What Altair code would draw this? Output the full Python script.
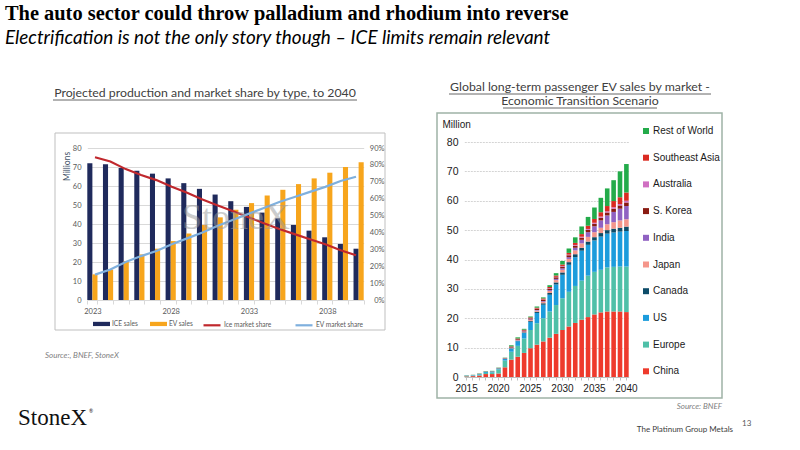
import altair as alt
import pandas as pd

# ---------------- data: left chart ----------------
left_years = list(range(2023, 2041))
ice_sales = [72, 71.5, 69.5, 68, 66.5, 64, 61.5, 58.5, 55.5, 52, 49, 46, 43, 39.5, 36.5, 33, 29.5, 27]
ev_sales = [13.5, 16, 20.5, 24, 27, 31, 35, 39.5, 43.5, 47.5, 51, 55, 58, 61, 64, 67, 70, 72.5]
ice_share = [84.5, 82, 77.5, 74, 71, 67, 63.5, 59.5, 56, 52.5, 49, 45.5, 42, 39, 36, 33, 29.5, 26.5]
ev_share = [15, 18, 22.5, 26, 29, 33, 36.5, 40, 44, 47.5, 51, 54.5, 58, 61, 64, 67, 70.5, 73]
bar_series = ["ICE sales", "EV sales"]
line_series = ["Ice market share", "EV market share"]

# ---------------- data: right chart ----------------
right_years = list(range(2015, 2041))
china = [0.2, 0.3, 0.5, 1.0, 1.0, 1.2, 3.3, 5.9, 6.9, 8.2, 9.8, 11, 12.1, 13.4, 14.7, 16, 17.2, 18.4, 19.5, 20.4, 21.3, 22, 22.3, 22.3, 22.3, 22.1]
europe = [0.2, 0.2, 0.3, 0.4, 0.55, 1.4, 2.3, 2.7, 3.7, 4.9, 6.2, 7.3, 7.9, 8.9, 9.8, 10.8, 11.8, 12.6, 13.3, 14.1, 14.5, 14.5, 15, 15.2, 15.3, 15.5]
us = [0.1, 0.15, 0.2, 0.35, 0.3, 0.3, 0.6, 1.1, 1.6, 1.9, 2.8, 3.5, 4.6, 5.7, 7.0, 8, 9.2, 9.8, 10.2, 10.5, 10.7, 11.3, 11.5, 11.7, 11.9, 12.1]
canada = [0, 0, 0.02, 0.05, 0.05, 0.05, 0.05, 0.1, 0.15, 0.2, 0.3, 0.4, 0.5, 0.6, 0.7, 0.8, 0.9, 1.0, 1.0, 1.1, 1.1, 1.2, 1.2, 1.3, 1.3, 1.5]
japan = [0.02, 0.05, 0.05, 0.05, 0.05, 0.05, 0.05, 0.1, 0.15, 0.2, 0.3, 0.4, 0.5, 0.7, 0.8, 0.9, 1.1, 1.3, 1.5, 1.6, 1.7, 1.8, 2.0, 2.2, 2.5, 2.5]
india = [0, 0, 0, 0, 0, 0, 0.02, 0.05, 0.1, 0.15, 0.2, 0.2, 0.25, 0.3, 0.4, 0.5, 0.6, 0.9, 1.2, 1.6, 2.0, 2.5, 3.0, 3.5, 4.0, 4.5]
skorea = [0.02, 0.02, 0.05, 0.05, 0.05, 0.05, 0.1, 0.2, 0.25, 0.3, 0.35, 0.4, 0.45, 0.5, 0.55, 0.6, 0.65, 0.7, 0.75, 0.8, 0.85, 0.9, 1.0, 1.1, 1.1, 1.2]
australia = [0, 0, 0, 0, 0, 0, 0.02, 0.05, 0.05, 0.05, 0.1, 0.1, 0.1, 0.15, 0.15, 0.2, 0.2, 0.25, 0.3, 0.3, 0.35, 0.4, 0.4, 0.5, 0.5, 0.6]
se_asia = [0, 0, 0, 0, 0, 0.05, 0.05, 0.2, 0.2, 0.2, 0.25, 0.3, 0.35, 0.4, 0.45, 0.5, 0.6, 0.7, 0.9, 1.1, 1.3, 1.5, 1.8, 2.1, 2.3, 2.8]
rest_world = [0.05, 0.05, 0.1, 0.1, 0.1, 0.1, 0.1, 0.4, 0.4, 0.3, 0.3, 0.4, 0.35, 0.6, 0.8, 1.2, 1.5, 1.9, 2.6, 3.0, 3.9, 4.9, 6.0, 7.1, 8.8, 9.7]
regions = ["China", "Europe", "US", "Canada", "Japan", "India", "S. Korea", "Australia", "Southeast Asia", "Rest of World"]
region_values = [china, europe, us, canada, japan, india, skorea, australia, se_asia, rest_world]
region_colors = ["#EE3A2C", "#4FC0A8", "#1C9CDC", "#0D4C69", "#F5968B", "#9062C2", "#8A1B12", "#D070C2", "#DA2B22", "#23AB4A"]

# ---------------- tables ----------------
bars_df = pd.DataFrame({
    "year": left_years * 2,
    "type": [bar_series[0]] * len(left_years) + [bar_series[1]] * len(left_years),
    "value": ice_sales + ev_sales,
})
lines_df = pd.DataFrame({
    "year": left_years * 2,
    "series": [line_series[0]] * len(left_years) + [line_series[1]] * len(left_years),
    "share": [v / 100 for v in ice_share + ev_share],
})
rows = []
for idx, (reg, vals) in enumerate(zip(regions, region_values)):
    for y, v in zip(right_years, vals):
        rows.append({"year": y, "region": reg, "value": v, "idx": idx})
ev_df = pd.DataFrame(rows)

ONE = alt.Data(values=[{}])
SANS = "Lato"
ARIAL = "Liberation Sans"
SERIF = "Liberation Serif"


def txt(s, x, y, size, align="left", font=SANS, color="#000000", style="normal", weight="normal", opacity=1.0):
    return alt.Chart(ONE).mark_text(
        text=s, align=align, baseline="middle", font=font, fontSize=size,
        color=color, fontStyle=style, fontWeight=weight, opacity=opacity,
    ).encode(x=alt.value(x), y=alt.value(y))


def frame(x1, x2, y1, y2, color, sw):
    return alt.Chart(ONE).mark_rect(fillOpacity=0, stroke=color, strokeWidth=sw).encode(
        x=alt.value(x1), x2=alt.value(x2), y=alt.value(y1), y2=alt.value(y2))


def hline(x1, x2, y, color="#404040", sw=0.8):
    return alt.Chart(ONE).mark_rule(color=color, strokeWidth=sw).encode(
        x=alt.value(x1), x2=alt.value(x2), y=alt.value(y))


# ---------------- left chart ----------------
left_bars = alt.Chart(bars_df).mark_bar().encode(
    x=alt.X("year:O", scale=alt.Scale(range=[87.3, 363.7], paddingInner=0.35, paddingOuter=0),
            axis=alt.Axis(orient="bottom", offset=-150, title=None, labelAngle=0,
                          labelExpr="(datum.value - 2023) % 5 == 0 ? datum.label : ''",
                          labelFont=SANS, labelFontSize=7.5, labelColor="#595959", labelPadding=3,
                          tickBand="extent", tickSize=4, tickColor="#d9d9d9", domainColor="#d9d9d9",
                          labelOverlap=False)),
    xOffset=alt.XOffset("type:N", sort=bar_series),
    y=alt.Y("value:Q", scale=alt.Scale(domain=[0, 80], range=[300, 148], nice=False),
            axis=alt.Axis(orient="left", offset=-87, values=list(range(0, 81, 10)), grid=True,
                          gridColor="#d9d9d9", domain=False, ticks=False, tickSize=0, labelPadding=6,
                          labelFont=SANS, labelFontSize=7.5, labelColor="#595959",
                          title="Millions", titleFont=SANS, titleFontSize=8.5, titleFontWeight="normal",
                          titleColor="#44546A", titleAngle=-90, titleX=-21, titleY=166,
                          titleAlign="center", titleBaseline="middle")),
    color=alt.Color("type:N", scale=alt.Scale(domain=bar_series, range=["#1F2A5C", "#F7A51C"]),
                    legend=alt.Legend(orient="none", legendX=93, legendY=315, direction="horizontal",
                                      title=None, symbolType="M-1,-0.25L1,-0.25L1,0.25L-1,0.25Z",
                                      symbolSize=289, symbolStrokeWidth=0, labelFont=SANS,
                                      labelFontSize=6.6, labelColor="#595959", labelOffset=2,
                                      columnPadding=12, padding=0)),
)

left_lines = alt.Chart(lines_df).mark_line(strokeWidth=2.2).encode(
    x=alt.X("year:O", scale=alt.Scale(type="point", range=[95, 356], padding=0), axis=None),
    y=alt.Y("share:Q", scale=alt.Scale(domain=[0, 0.9], range=[300, 148], nice=False),
            axis=alt.Axis(orient="right", offset=-437, format=".0%",
                          values=[i / 10 for i in range(10)], grid=False, domain=False, ticks=False,
                          tickSize=0, labelAlign="right", labelPadding=21, labelFont=SANS,
                          labelFontSize=7.5, labelColor="#595959", title=None)),
    color=alt.Color("series:N", scale=alt.Scale(domain=line_series, range=["#C0282D", "#7FB0DE"]),
                    legend=alt.Legend(orient="none", legendX=202, legendY=315, direction="horizontal",
                                      title=None, symbolType="stroke", symbolSize=289,
                                      symbolStrokeWidth=2.2, labelFont=SANS, labelFontSize=6.6,
                                      labelColor="#595959", labelOffset=2, columnPadding=19,
                                      padding=0)),
)

# ---------------- right chart ----------------
right_bars = alt.Chart(ev_df).mark_bar().encode(
    x=alt.X("year:O", scale=alt.Scale(range=[464.3, 628.7], paddingInner=0.28, paddingOuter=0),
            axis=alt.Axis(orient="bottom", offset=-73, title=None, labelAngle=0,
                          labelExpr="datum.value % 5 == 0 ? datum.label : ''",
                          labelFont=ARIAL, labelFontSize=10, labelColor="#1a1a1a", labelPadding=3,
                          tickSize=3, tickColor="#bfbfbf", domainColor="#bfbfbf", labelOverlap=False)),
    y=alt.Y("value:Q", stack="zero", scale=alt.Scale(domain=[0, 80], range=[377, 142], nice=False),
            axis=alt.Axis(orient="left", offset=-465, values=list(range(0, 81, 10)), grid=True,
                          gridColor="#d4d4d4", gridDash=[2, 1], domain=False, ticks=False, tickSize=0,
                          labelPadding=7, labelFont=ARIAL, labelFontSize=10.5, labelColor="#1a1a1a",
                          title="Million", titleFont=ARIAL, titleFontSize=10,
                          titleFontWeight="normal", titleColor="#1a1a1a", titleAngle=0,
                          titleX=-23, titleY=124, titleAlign="left", titleBaseline="middle")),
    color=alt.Color("region:N",
                    scale=alt.Scale(domain=regions[::-1], range=region_colors[::-1]),
                    legend=alt.Legend(orient="none", legendX=641, legendY=126, direction="vertical",
                                      title=None, symbolType="square", symbolSize=36,
                                      symbolStrokeWidth=0, labelFont=ARIAL, labelFontSize=10,
                                      labelColor="#1a1a1a", labelOffset=2, rowPadding=16.7,
                                      padding=0)),
    order=alt.Order("idx:Q", sort="ascending"),
)

# ---------------- text & frames ----------------
layers = [
    frame(55, 385, 133, 330, "#bfbfbf", 1),
    frame(437, 722, 113, 398, "#9fb3a6", 1.5),
    left_bars,
    left_lines,
    txt("StoneX", 236, 218, 36, align="center", font=SERIF, color="#9a9a9a", opacity=0.5),
    right_bars,
    txt("The auto sector could throw palladium and rhodium into reverse", 5, 14, 20.4,
        font=SERIF, weight="bold"),
    txt("Electrification is not the only story though \u2013 ICE limits remain relevant", 5, 38, 18.9,
        style="italic"),
    txt("Projected production and market share by type, to 2040", 205, 93, 12.3, align="center",
        color="#404040"),
    hline(53, 357, 100),
    txt("Global long-term passenger EV sales by market  -", 580, 87, 12.3, align="center",
        color="#404040"),
    hline(449, 711, 94),
    txt("Economic Transition Scenario", 580, 101, 12.3, align="center", color="#404040"),
    hline(503, 657, 108),
    txt("Source:, BNEF, StoneX", 45, 356, 8, style="italic", color="#7f7f7f"),
    txt("Source: BNEF", 722, 407, 8, align="right", style="italic", color="#7f7f7f"),
    txt("StoneX", 18, 418, 23, font=SERIF, color="#111111"),
    txt("\u00ae", 89, 411, 5, color="#111111"),
    txt("13", 742, 424, 8, color="#595959"),
    txt("The Platinum Group Metals", 733, 430, 8, align="right", color="#404040"),
]

chart = alt.layer(*layers).resolve_scale(
    x="independent", y="independent", color="independent"
).properties(
    width=800, height=450, padding=0, autosize=alt.AutoSizeParams(type="none"), background="white"
).configure_view(stroke="transparent")

chart.save("out.html", embed_options={"renderer": "svg", "actions": False})
